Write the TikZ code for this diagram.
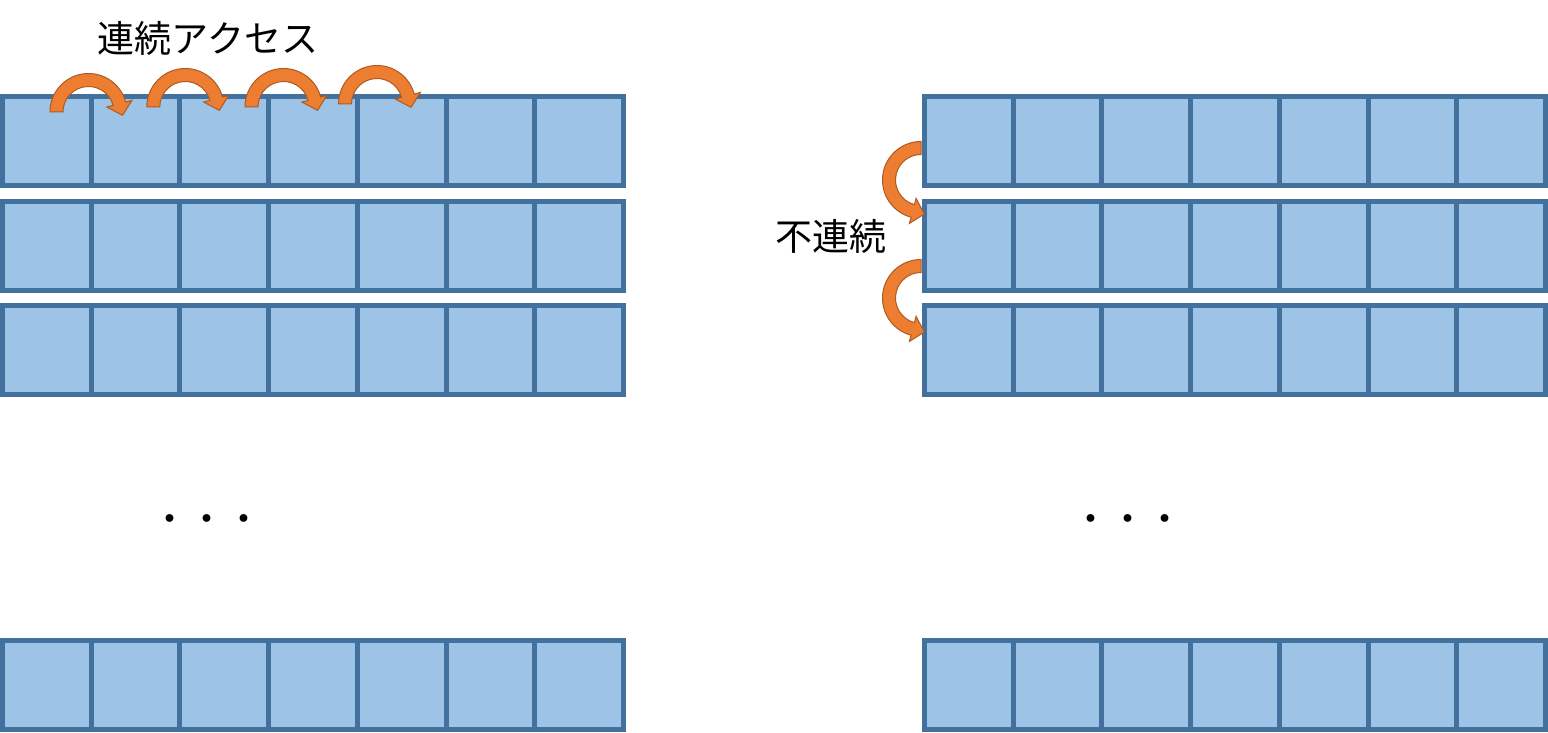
\documentclass[tikz,border=0pt]{standalone}
\usepackage{fontspec}
\newfontfamily\cjk{Noto Sans CJK JP}
\usetikzlibrary{calc}
\definecolor{cellfill}{HTML}{9DC3E6}
\definecolor{cellline}{HTML}{41719C}
\definecolor{arrfill}{HTML}{ED7D31}
\definecolor{arrline}{HTML}{AE5A21}
\tikzset{
  cell/.style={rectangle, draw=cellline, fill=cellfill, line width=5pt,
    minimum width=88.7pt, minimum height=88.7pt, inner sep=0pt, outer sep=0pt},
  lbl/.style={font=\cjk\fontsize{37}{40}\selectfont, inner sep=0pt},
  curvearrow/.style={fill=arrfill, draw=arrline, line width=1pt, line join=miter}
}
\newcommand\cvarrowpath{(180:38.5) arc[start angle=180, end angle=15, radius=38.5]
  -- (15:45) -- (34.02,-3.31) -- (15:19) -- (15:25.5)
  arc[start angle=15, end angle=180, radius=25.5] -- cycle}
\begin{document}
\begin{tikzpicture}[x=1pt,y=1pt]
\useasboundingbox (0,0) rectangle (1548,732);
\foreach \r/\y in {1/591.15,2/486.15,3/382.15,4/46.85}{
  \foreach \c in {1,...,7}{
    \node[cell] (L\r-\c) at ({46.85+88.7*(\c-1)}, \y) {};
    \node[cell] (R\r-\c) at ({968.85+88.7*(\c-1)}, \y) {};
  }
}
% sequential access arrows
\foreach \cx/\cy in {88.5/620, 185.3/625, 283.5/625, 377/628}{
  \begin{scope}[shift={(\cx,\cy)}]
    \draw[curvearrow] \cvarrowpath;
  \end{scope}
}
% non-contiguous arrows
\foreach \cy in {552, 434}{
  \begin{scope}[cm={0,-1,-1,0,(921,\cy)}]
    \draw[curvearrow] \cvarrowpath;
  \end{scope}
}
\node[lbl] (t1) at (208, 694) {連続アクセス};
\node[lbl] (t2) at (831, 495.5) {不連続};
\node[lbl] (d1) at (207, 208) {・・・};
\node[lbl] (d2) at (1128, 208) {・・・};
\end{tikzpicture}
\end{document}
